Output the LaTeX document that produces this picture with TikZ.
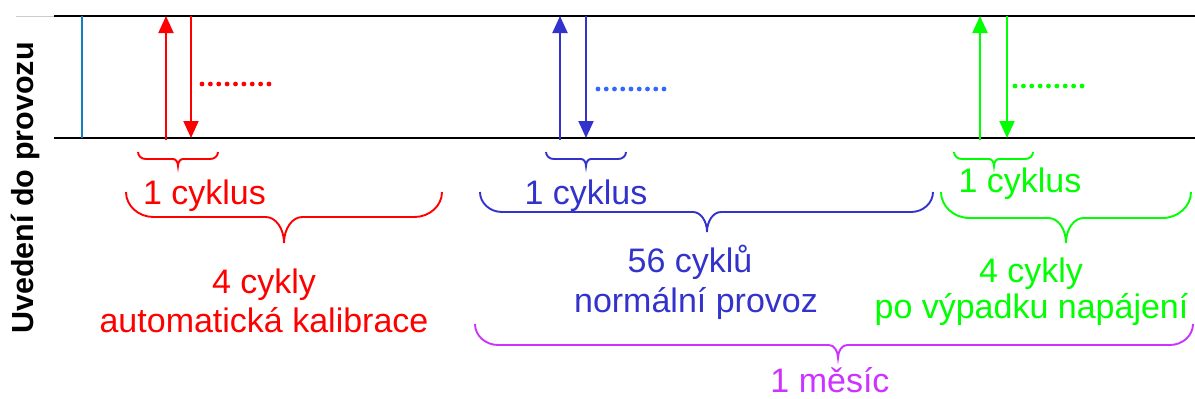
\documentclass[tikz,border=0pt]{standalone}
\usepackage{fontspec}
\setmainfont{Liberation Sans}
\usetikzlibrary{arrows.meta}
\definecolor{cred}{RGB}{255,0,0}
\definecolor{cblue}{RGB}{51,51,204}
\definecolor{cdotblue}{RGB}{51,102,255}
\definecolor{cgreen}{RGB}{0,255,0}
\definecolor{cmag}{RGB}{204,51,255}
\definecolor{cteal}{RGB}{16,128,192}
\newcommand\mybrace[7]{% color x1 x2 xm yt yl ytip
  \pgfmathsetmacro\bra{1.1*(#6-#5)}\pgfmathsetmacro\brv{#6-#5}%
  \pgfmathsetmacro\brb{0.7*(#7-#6)}\pgfmathsetmacro\brt{#7-#6}%
  \draw[#1,bracepath] (#2,#5) .. controls (#2,#5+0.55*\brv) and (#2+0.45*\bra,#6) .. (#2+\bra,#6) -- (#4-\brb,#6)
    .. controls (#4-0.45*\brb,#6) and (#4,#6+0.45*\brt) .. (#4,#7)
    .. controls (#4,#6+0.45*\brt) and (#4+0.45*\brb,#6) .. (#4+\brb,#6) -- (#3-\bra,#6)
    .. controls (#3-0.45*\bra,#6) and (#3,#5+0.55*\brv) .. (#3,#5);}
\newcommand\mydots[4]{% color x1 x2 y
  \foreach \k in {0,...,8}{\fill[#1] ({#2+\k*(#3-#2)/8},#4) circle (2.4);}}
\begin{document}
\begin{tikzpicture}[x=1pt,y=-1pt,
  lbl/.style={font=\fontsize{34}{40}\selectfont, inner sep=0pt, anchor=base},
  bracepath/.style={line width=1.9pt},
  sig/.style={line width=2pt, -{Triangle[width=15pt,length=17pt]}},
  rail/.style={line width=2pt, black}]
\useasboundingbox (0,0) rectangle (1195,399);

% rails
\draw[gray!40, line width=1pt] (16,16) -- (54,16);
\coordinate (tl) at (54,16); \coordinate (tr) at (1195,16);
\coordinate (bl) at (54,138); \coordinate (br) at (1195,138);
\draw[rail] (tl) -- (tr);
\draw[rail] (bl) -- (br);
\coordinate (st) at (82,16); \coordinate (sb) at (82,138);
\draw[cteal, line width=2pt] (st) -- (sb);

% vertical label
\node[font=\bfseries\fontsize{30.5}{30}\selectfont, inner sep=0pt, anchor=base, rotate=90] (uv) at (34,188) {Uvedení do provozu};

% red signals
\coordinate (ru0) at (166,140); \coordinate (ru1) at (166,16);
\coordinate (rd0) at (191,16); \coordinate (rd1) at (191,138);
\draw[sig, cred] (ru0) -- (ru1);
\draw[sig, cred] (rd0) -- (rd1);
\mydots{cred}{202}{269}{84}

% blue signals
\coordinate (bu0) at (560,140); \coordinate (bu1) at (560,16);
\coordinate (bd0) at (586,16); \coordinate (bd1) at (586,138);
\draw[sig, cblue] (bu0) -- (bu1);
\draw[sig, cblue] (bd0) -- (bd1);
\mydots{cdotblue}{598}{664}{89}

% green signals
\coordinate (gu0) at (980,140); \coordinate (gu1) at (980,16);
\coordinate (gd0) at (1007,16); \coordinate (gd1) at (1007,138);
\draw[sig, cgreen] (gu0) -- (gu1);
\draw[sig, cgreen] (gd0) -- (gd1);
\mydots{cgreen}{1015}{1082}{86}

% small braces
\mybrace{cred}{138}{218}{178}{152}{159}{166}
\mybrace{cblue}{546}{626}{586}{152}{159}{166}
\mybrace{cgreen}{954}{1033}{994}{152}{159}{166}

% labels 1 cyklus
\node[lbl, text=cred] (rc) at (204.5,204) {1 cyklus};
\node[lbl, text=cblue] (bc) at (586,204) {1 cyklus};
\node[lbl, text=cgreen] (gc) at (1020,192) {1 cyklus};

% big braces
\mybrace{cred}{126}{442}{284}{192}{217}{243}
\mybrace{cblue}{480}{933}{707}{192}{212}{232}
\mybrace{cgreen}{941}{1191}{1066}{192}{218}{243}
\mybrace{cmag}{475}{1193}{838}{324}{345}{358}

% group labels
\node[lbl, text=cred] (r1) at (264,293) {4 cykly};
\node[lbl, text=cred] (r2) at (264,332) {automatická kalibrace};
\node[lbl, text=cblue] (b1) at (690,272) {56 cyklů};
\node[lbl, text=cblue] (b2) at (696,312) {normální provoz};
\node[lbl, text=cgreen] (g1) at (1031,282) {4 cykly};
\node[lbl, text=cgreen] (g2) at (1031.5,318) {po výpadku napájení};
\node[lbl, text=cmag, text depth=0pt] (m1) at (830,392) {1 měsíc};
\end{tikzpicture}
\end{document}
